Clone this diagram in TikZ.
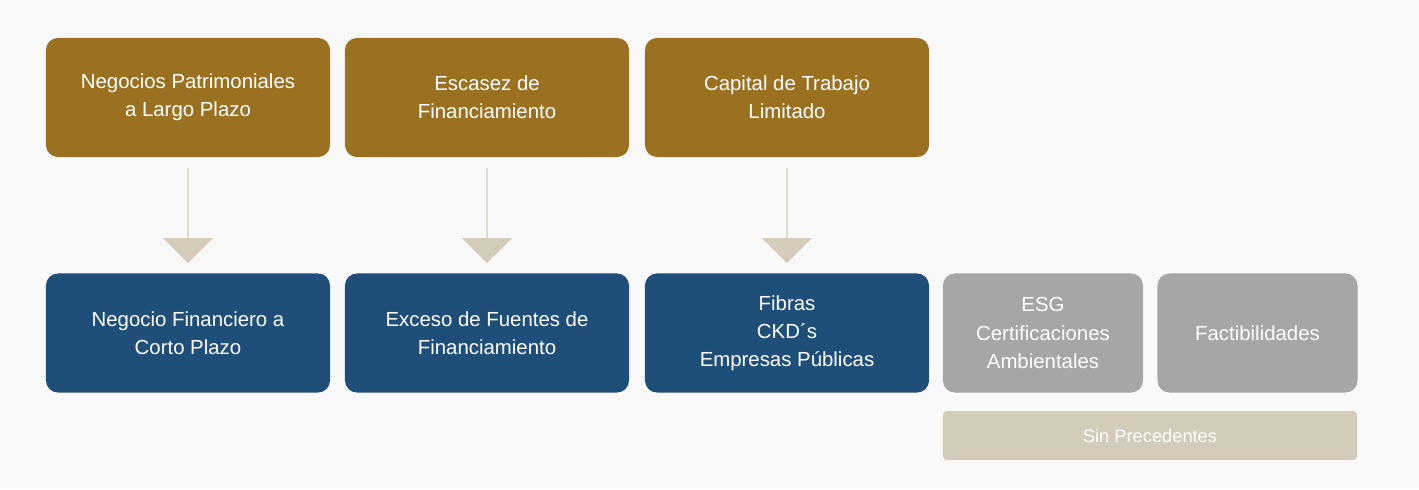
\documentclass[tikz,border=0pt]{standalone}
\usepackage{fontspec}
\setmainfont{Liberation Sans}
\usetikzlibrary{shapes.arrows,calc}
\definecolor{brownbox}{HTML}{9A7021}
\definecolor{bluebox}{HTML}{1F4E79}
\definecolor{greybox}{HTML}{A6A6A6}
\definecolor{beigebox}{HTML}{D3CCBB}
\tikzset{
	box/.style     = {rounded corners=0.3cm, text=white, align=center,
		minimum width=7.1cm, minimum height=2.975cm, inner sep=2pt,
		font=\fontsize{14.5}{20}\selectfont},
	topbox/.style  = {box, fill=brownbox},
	lowbox/.style  = {box, fill=bluebox},
	greyb/.style   = {box, fill=greybox, minimum width=5cm},
	downarrow/.style = {single arrow, fill=beigebox, shape border rotate=270,
		minimum height=2.375cm, minimum width=1.25cm, inner sep=0pt,
		single arrow head extend=0.3cm, single arrow tip angle=90}
}
\begin{document}
\begin{tikzpicture}[x=0.025cm, y=-0.025cm]
	\fill[gray!5] (0,0) rectangle (1419,489);
	\useasboundingbox (0,0) rectangle (1419,489);
	% top row
	\node[topbox] (t1) at (188,97.5) {Negocios Patrimoniales\\a Largo Plazo};
	\node[topbox] (t2) at (487,97.5) {Escasez de\\Financiamiento};
	\node[topbox] (t3) at (787,97.5) {Capital de Trabajo\\Limitado};
	% bottom row
	\node[lowbox] (b1) at (188,333) {Negocio Financiero a\\Corto Plazo};
	\node[lowbox] (b2) at (487,333) {Exceso de Fuentes de\\Financiamiento};
	\node[lowbox] (b3) at (787,333) {Fibras\\CKD´s\\Empresas Públicas};
	\node[greyb] (g1) at (1043,333) {ESG\\Certificaciones\\Ambientales};
	\node[greyb] (g2) at (1257.5,333) {Factibilidades};
	\node[rounded corners=0.1cm, fill=beigebox, text=white, minimum width=10.35cm,
		minimum height=1.225cm, font=\fontsize{13}{16}\selectfont] (sp) at (1150,435.5) {Sin Precedentes};
	% arrows
	\foreach \i in {1,2,3}
		\node[downarrow] (a\i) at ($(t\i.south)!0.5!(b\i.north)$) {};
\end{tikzpicture}
\end{document}
